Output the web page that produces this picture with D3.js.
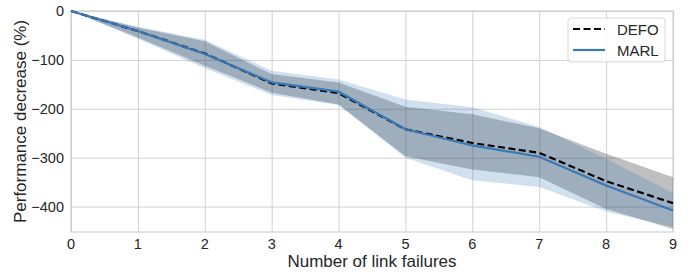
<!DOCTYPE html>
<html lang="en">
    <head>
        <meta charset="utf-8">
        <title>Link failures</title>
        <style>
            body { margin: 0; background: #fff; }
            svg text { font-family: "Liberation Sans", Arial, sans-serif; fill: #262626; }
        </style>
    </head>
    <body>
        <div id="chart"></div>
        <script src="https://d3js.org/d3.v7.min.js"></script>
        <script>
            const failures = [0, 1, 2, 3, 4, 5, 6, 7, 8, 9];
            const defoMean = [0, -41, -87, -148, -168, -242, -270, -290, -348, -393];
            const defoLow  = [0, -54, -112, -167, -191, -297, -324, -340, -405, -446];
            const defoHigh = [0, -34, -62, -129, -146, -196, -211, -240, -292, -340];
            const marlMean = [0, -41, -88, -146, -165, -242, -275, -298, -357, -408];
            const marlLow  = [0, -57, -117, -172, -192, -300, -346, -360, -410, -442];
            const marlHigh = [0, -32, -59, -122, -140, -181, -197, -237, -302, -372];
            const yTicks = [0, -100, -200, -300, -400];
            const seriesNames = ["DEFO", "MARL"];

            const w = 694, h = 272;
            const margin = {left: 71, right: 21, top: 11, bottom: 40};
            const blue = "#3a78b8";

            const svg = d3.select("#chart").append("svg")
                .attr("width", w).attr("height", h);

            const x = d3.scaleLinear().domain([0, 9]).range([margin.left, w - margin.right]);
            const y = d3.scaleLinear().domain([-452, 0]).range([h - margin.bottom, margin.top]);

            // grid
            svg.append("g")
                .attr("transform", `translate(0,${h - margin.bottom})`)
                .call(d3.axisBottom(x).tickValues(failures).tickSize(-(h - margin.bottom - margin.top)).tickFormat(""))
                .call(g => g.select(".domain").remove())
                .call(g => g.selectAll("line").attr("stroke", "#d0d0d0").attr("stroke-width", 1));
            svg.append("g")
                .attr("transform", `translate(${margin.left},0)`)
                .call(d3.axisLeft(y).tickValues(yTicks).tickSize(-(w - margin.left - margin.right)).tickFormat(""))
                .call(g => g.select(".domain").remove())
                .call(g => g.selectAll("line").attr("stroke", "#d0d0d0").attr("stroke-width", 1));

            // spines
            svg.append("rect")
                .attr("x", margin.left).attr("y", margin.top)
                .attr("width", w - margin.left - margin.right)
                .attr("height", h - margin.top - margin.bottom)
                .attr("fill", "none").attr("stroke", "#d0d0d0").attr("stroke-width", 1.2);

            const area = (lo, hi) => d3.area()
                .x((d, i) => x(failures[i]))
                .y0((d, i) => y(lo[i]))
                .y1((d, i) => y(hi[i]))(failures);
            const line = vals => d3.line()
                .x((d, i) => x(failures[i]))
                .y((d, i) => y(vals[i]))(failures);

            svg.append("path").attr("d", area(defoLow, defoHigh))
                .attr("fill", "#000").attr("fill-opacity", 0.25);
            svg.append("path").attr("d", area(marlLow, marlHigh))
                .attr("fill", blue).attr("fill-opacity", 0.23);

            svg.append("path").attr("d", line(defoMean))
                .attr("fill", "none").attr("stroke", "#000").attr("stroke-width", 2.2)
                .attr("stroke-dasharray", "7,3.5");
            svg.append("path").attr("d", line(marlMean))
                .attr("fill", "none").attr("stroke", blue).attr("stroke-width", 2.2);

            // tick labels
            svg.selectAll(".xt").data(failures).join("text")
                .attr("x", d => x(d)).attr("y", h - margin.bottom + 17)
                .attr("text-anchor", "middle").attr("font-size", 14.5).text(d => d);
            svg.selectAll(".yt").data(yTicks).join("text")
                .attr("x", margin.left - 7).attr("y", d => y(d) + 5)
                .attr("text-anchor", "end").attr("font-size", 14.5)
                .text(d => d3.format("d")(d).replace("-", "\u2212"));

            svg.append("text")
                .attr("x", (margin.left + w - margin.right) / 2).attr("y", h - 5)
                .attr("text-anchor", "middle").attr("font-size", 17)
                .text("Number of link failures");
            svg.append("text")
                .attr("transform", `translate(26,${(margin.top + h - margin.bottom) / 2}) rotate(-90)`)
                .attr("text-anchor", "middle").attr("font-size", 17)
                .text("Performance decrease (%)");

            // legend
            const lg = svg.append("g").attr("transform", "translate(568,18)");
            lg.append("rect").attr("width", 97).attr("height", 44).attr("rx", 3)
                .attr("fill", "#fff").attr("fill-opacity", 0.8)
                .attr("stroke", "#d8d8d8").attr("stroke-width", 1);
            seriesNames.forEach((name, i) => {
                const yy = 11 + i * 21;
                lg.append("line").attr("x1", 5).attr("x2", 37).attr("y1", yy).attr("y2", yy)
                    .attr("stroke", i === 0 ? "#000" : blue).attr("stroke-width", 2.2)
                    .attr("stroke-dasharray", i === 0 ? "7,3.5" : null);
                lg.append("text").attr("x", 49).attr("y", yy + 5.5)
                    .attr("font-size", 15).text(name);
            });
        </script>
    </body>
</html>
